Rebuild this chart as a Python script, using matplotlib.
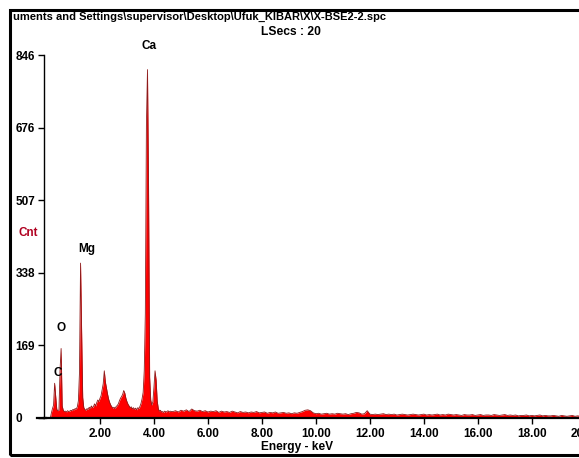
import matplotlib
matplotlib.use("Agg")
import matplotlib.pyplot as plt
import numpy as np
from matplotlib.patches import Rectangle

# EDS spectrum (counts per channel)
low_start, low_step = 0.12, 0.04
low_counts = [
    0, 0, 12, 22, 30, 81, 49, 20, 17, 19,          # 0.12 - 0.48  (C)
    112, 162, 28, 18, 15, 16, 14, 17, 15, 16,      # 0.52 - 0.88  (O)
    18, 17, 20, 19, 22, 21, 26, 40, 105, 361,      # 0.92 - 1.28  (Mg)
    201, 48, 24, 20, 18, 22, 20, 25, 22, 28,       # 1.32 - 1.68
    24, 27, 33, 28, 36, 42, 38, 46, 52, 66,        # 1.72 - 2.08
    80, 110, 84, 70, 56, 44, 36, 30, 26, 23,       # 2.12 - 2.48
    25, 22, 27, 29, 33, 40, 46, 50, 55, 64,        # 2.52 - 2.88
    58, 46, 38, 32, 28, 24, 26, 21, 24, 20,        # 2.92 - 3.28
    23, 19, 24, 22, 27, 34, 45, 60, 110, 243,      # 3.32 - 3.68
    681, 812, 533, 95, 42, 30, 38, 72, 110, 88,    # 3.72 - 4.08  (Ca)
    40, 22, 16, 18, 14, 15, 13, 16, 14, 15,        # 4.12 - 4.48
    17, 14, 16, 15,                                # 4.52 - 4.64
]
high_start, high_step = 4.70, 0.10
high_counts = [
    15, 17, 14, 18, 16, 19, 15, 21, 17, 16,
    18, 15, 17, 14, 16, 15, 17, 13, 16, 14,
    15, 13, 16, 14, 12, 15, 13, 14, 12, 14,
    13, 15, 12, 13, 14, 11, 13, 12, 14, 11,
    12, 13, 11, 12, 10, 12, 11, 13, 15, 18,
    19, 17, 12, 10, 11, 9, 10, 11, 9, 10,
    9, 11, 10, 9, 10, 8, 10, 11, 13, 12,
    9, 10, 17, 9, 8, 9, 8, 9, 10, 8,
    9, 8, 9, 7, 8, 9, 8, 7, 8, 9,
    8, 7, 8, 9, 7, 8, 7, 8, 9, 7,
    8, 7, 9, 8, 7, 8, 7, 6, 8, 7,
    7, 8, 6, 7, 8, 6, 7, 7, 6, 8,
    7, 6, 7, 8, 6, 7, 6, 7, 5, 6,
    6, 7, 5, 6, 5, 6, 7, 5, 6, 5,
    5, 6, 5, 4, 6, 5, 4, 5, 6, 4,
    5, 4, 5, 4, 5, 4, 4, 5, 4, 4,
]

y_ticks = [0, 169, 338, 507, 676, 846]
x_ticks = [2, 4, 6, 8, 10, 12, 14, 16, 18, 20]
x_labels = ["2.00", "4.00", "6.00", "8.00", "10.00", "12.00", "14.00", "16.00", "18.00", "20.00"]
peak_names = ["C", "O", "Mg", "Ca"]
peak_pos = [(0.42, 105), (0.56, 210), (1.52, 395), (3.82, 866)]

energy = np.concatenate([low_start + low_step * np.arange(len(low_counts)),
                         high_start + high_step * np.arange(len(high_counts))])
counts = np.array(low_counts + high_counts, dtype=float)

plt.rcParams['font.family'] = ['Liberation Sans', 'DejaVu Sans']
plt.rcParams['font.weight'] = 'bold'

W, H = 579, 458
fig = plt.figure(figsize=(W / 100, H / 100), dpi=100)
ax = fig.add_axes([44 / W, 40 / H, 558 / W, 363 / H])

ax.fill_between(energy, 0, counts, color='#ff0000', linewidth=0)
ax.plot(energy, counts, color='#8e1a1a', linewidth=0.6)

ax.set_xlim(-0.074, 20.6)
ax.set_ylim(0, 846)
for s in ['top', 'right']:
    ax.spines[s].set_visible(False)
ax.spines['left'].set_linewidth(1.0)
ax.spines['bottom'].set_linewidth(1.6)
ax.plot([-0.35, 0], [0, 0], color='black', linewidth=1.6, clip_on=False)

ax.set_yticks(y_ticks)
ax.set_yticklabels([str(v) for v in y_ticks], fontsize=8.5, fontweight='bold')
for lab in ax.get_yticklabels():
    lab.set_horizontalalignment('left')
ax.tick_params(axis='y', direction='out', length=4.5, width=1.0, pad=16)
ax.set_xticks(x_ticks)
ax.set_xticklabels(x_labels, fontsize=8.5, fontweight='bold')
ax.tick_params(axis='x', direction='out', length=4.5, width=1.0, pad=3)

for name, (ex, cy) in zip(peak_names, peak_pos):
    ax.text(ex, cy, name, ha='center', va='center', fontsize=8.5, fontweight='bold')

fig.text(13 / W, 1 - 17 / H,
         "uments and Settings\\supervisor\\Desktop\\Ufuk_KIBAR\\X\\X-BSE2-2.spc",
         ha='left', va='center', fontsize=8, fontweight='bold')
fig.text(291 / W, 1 - 32 / H, "LSecs : 20", ha='center', va='center',
         fontsize=8.7, fontweight='bold')
fig.text(28 / W, 1 - 233 / H, "Cnt", ha='center', va='center',
         fontsize=8.5, fontweight='bold', color='#b00020')
fig.text(297 / W, 1 - 447 / H, "Energy - keV", ha='center', va='center',
         fontsize=8.6, fontweight='bold')

fig.patches.append(Rectangle((10 / W, 1 - 455 / H), 620 / W, 445 / H,
                             transform=fig.transFigure, fill=False,
                             edgecolor='black', linewidth=2.2))

fig.savefig("out.png", dpi=100)
